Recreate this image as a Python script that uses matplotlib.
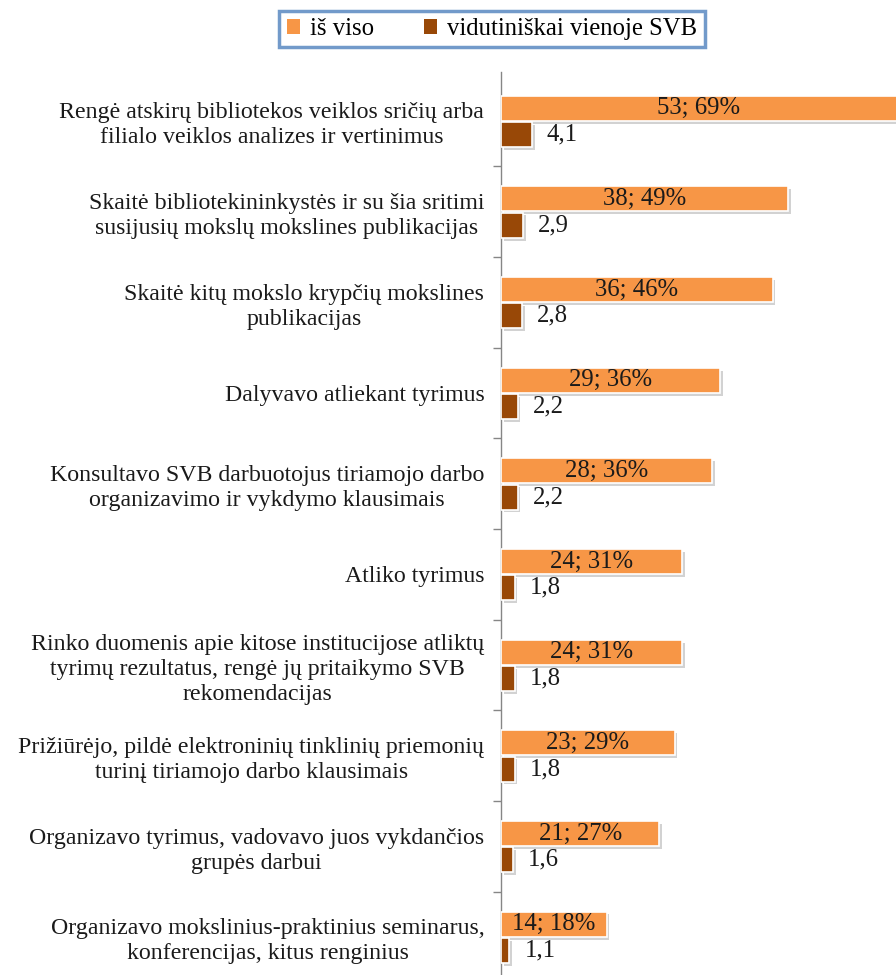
import matplotlib
matplotlib.use("Agg")
import matplotlib.pyplot as plt
import matplotlib.patheffects as pe
import numpy as np

categories = [
    "Rengė atskirų bibliotekos veiklos sričių arba\nfilialo veiklos analizes ir vertinimus",
    "Skaitė bibliotekininkystės ir su šia sritimi\nsusijusių mokslų mokslines publikacijas",
    "Skaitė kitų mokslo krypčių mokslines\npublikacijas",
    "Dalyvavo atliekant tyrimus",
    "Konsultavo SVB darbuotojus tiriamojo darbo\norganizavimo ir vykdymo klausimais",
    "Atliko tyrimus",
    "Rinko duomenis apie kitose institucijose atliktų\ntyrimų rezultatus, rengė jų pritaikymo SVB\nrekomendacijas",
    "Prižiūrėjo, pildė elektroninių tinklinių priemonių\nturinį tiriamojo darbo klausimais",
    "Organizavo tyrimus, vadovavo juos vykdančios\ngrupės darbui",
    "Organizavo mokslinius-praktinius seminarus,\nkonferencijas, kitus renginius",
]
total = [53, 38, 36, 29, 28, 24, 24, 23, 21, 14]
total_pct = [69, 49, 46, 36, 36, 31, 31, 29, 27, 18]
avg = [4.1, 2.9, 2.8, 2.2, 2.2, 1.8, 1.8, 1.8, 1.6, 1.1]
series_names = ["iš viso", "vidutiniškai vienoje SVB"]

plt.rcParams['font.family'] = ['Liberation Serif', 'DejaVu Serif']

ORANGE = "#F79646"
BROWN = "#984807"
FS = 17.2

fig = plt.figure(figsize=(8.96, 9.75), dpi=100)
ax = fig.add_axes([501 / 896, 0, 1 - 501 / 896 + 0.001, 1 - 72 / 975])

y = np.arange(len(categories))
h = 0.276
shadow = [pe.SimplePatchShadow(offset=(2, -2), shadow_rgbFace="#8f8f8f", alpha=0.4), pe.Normal()]

b1 = ax.barh(y - 0.14, total, height=h, color=ORANGE, edgecolor="white", linewidth=1.2,
             label=series_names[0], zorder=3)
b2 = ax.barh(y + 0.15, avg, height=h, color=BROWN, edgecolor="white", linewidth=1.2,
             label=series_names[1], zorder=3)
for p in list(b1) + list(b2):
    p.set_path_effects(shadow)

xmax = (896 - 501) / 7.53
ax.set_xlim(0, xmax)
ax.set_ylim(9.42, -0.54)

for yi, v, pc in zip(y, total, total_pct):
    ax.text(min(v, xmax) / 2, yi - 0.14, f"{v}; {pc}%", ha="center", va="center",
            fontsize=FS + 0.6, color="#1a1a1a", zorder=5)
for yi, v in zip(y, avg):
    ax.annotate(f"{v:.1f}".replace(".", ","), xy=(v, yi + 0.15), xytext=(15, 0),
                textcoords="offset pixels", ha="left", va="center", fontsize=FS + 0.6,
                color="#1a1a1a", zorder=5)

ax.set_yticks(y)
ax.set_yticklabels(categories, fontsize=FS, color="#1a1a1a")
for lab in ax.get_yticklabels():
    lab.set_multialignment("center")
    lab.set_linespacing(1.25)
ax.set_yticks(np.arange(len(categories) - 1) + 0.5, minor=True)
ax.tick_params(axis="y", which="major", length=0, pad=12)
ax.tick_params(axis="y", which="minor", length=6, color="#868686", width=1)
ax.set_xticks([])
for s in ["top", "right", "bottom"]:
    ax.spines[s].set_visible(False)
ax.spines["left"].set_color("#868686")
ax.spines["left"].set_linewidth(1)

leg = fig.legend(handles=[b1, b2], loc="center", bbox_to_anchor=(492 / 896, 1 - 29 / 975),
                 ncol=2, fontsize=FS + 0.6, frameon=True, handlelength=0.55, handleheight=0.55,
                 handletextpad=0.4, columnspacing=2.0, borderpad=0.3, borderaxespad=0,
                 fancybox=False)
leg._legend_box.sep = 4
frame = leg.get_frame()
frame.set_edgecolor("#4F81BD")
frame.set_linewidth(2.5)
for hdl in leg.legend_handles:
    hdl.set_path_effects([])
    hdl.set_edgecolor("none")

fig.savefig("out.png", dpi=100)
